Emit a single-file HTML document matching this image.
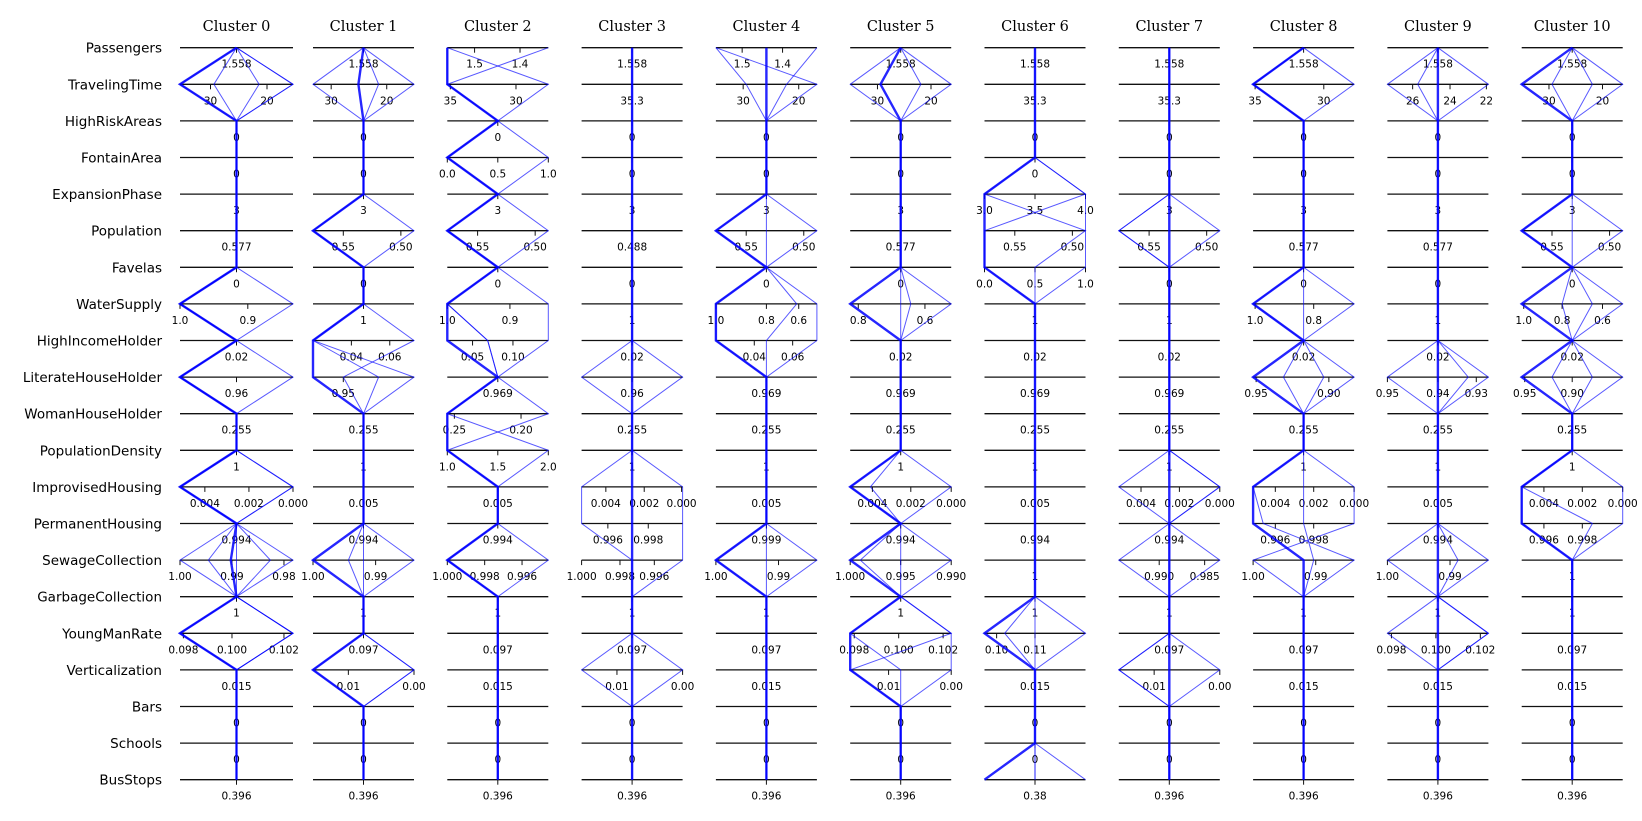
<!DOCTYPE html>
<html><head><meta charset="utf-8"><style>
html,body{margin:0;padding:0;background:#fff;}
svg{display:block;}
</style></head><body>
<svg id="chart" width="1642" height="821" viewBox="0 0 1642 821" xmlns="http://www.w3.org/2000/svg"></svg>
<script>
const rowNames = ["Passengers","TravelingTime","HighRiskAreas","FontainArea","ExpansionPhase","Population","Favelas","WaterSupply","HighIncomeHolder","LiterateHouseHolder","WomanHouseHolder","PopulationDensity","ImprovisedHousing","PermanentHousing","SewageCollection","GarbageCollection","YoungManRate","Verticalization","Bars","Schools","BusStops"];
const clusterNames = ["Cluster 0","Cluster 1","Cluster 2","Cluster 3","Cluster 4","Cluster 5","Cluster 6","Cluster 7","Cluster 8","Cluster 9","Cluster 10"];
const ticks0 = ["1.558","30@.27|20@.77","0","0","3","0.577","0","1.0@0|0.9@.6","0.02","0.96","0.255","1","0.004@.22|0.002@.61|0.000@1","0.994","1.00@0|0.99@.46|0.98@.92","1","0.098@.03|0.100@.46|0.102@.92","0.015","0","0","0.396"];
const ticks1 = ["1.558","30@.18|20@.73","0","0","3","0.55@.3|0.50@.87","0","1","0.04@.38|0.06@.76","0.95@.3","0.255","1","0.005","0.994","1.00@0|0.99@.62","1","0.097","0.01@.35|0.00@1","0","0","0.396"];
const ticks2 = ["1.5@.27|1.4@.72","35@.03|30@.68","0","0.0@0|0.5@.5|1.0@1","3","0.55@.3|0.50@.87","0","1.0@0|0.9@.62","0.05@.25|0.10@.65","0.969","0.25@.07|0.20@.73","1.0@0|1.5@.5|2.0@1","0.005","0.994","1.000@0|0.998@.37|0.996@.74","1","0.097","0.015","0","0","0.396"];
const ticks3 = ["1.558","35.3","0","0","3","0.488","0","1","0.02","0.96","0.255","1","0.004@.24|0.002@.62|0.000@.99","0.996@.26|0.998@.66","1.000@0|0.998@.38|0.996@.72","1","0.097","0.01@.35|0.00@1","0","0","0.396"];
const ticks4 = ["1.5@.26|1.4@.66","30@.27|20@.82","0","0","3","0.55@.3|0.50@.87","0","1.0@0|0.8@.5|0.6@.82","0.04@.38|0.06@.76","0.969","0.255","1","0.005","0.999","1.00@0|0.99@.62","1","0.097","0.015","0","0","0.396"];
const ticks5 = ["1.558","30@.27|20@.8","0","0","3","0.577","0","0.8@.08|0.6@.74","0.02","0.969","0.255","1","0.004@.22|0.002@.6|0.000@1","0.994","1.000@0|0.995@.5|0.990@1","1","0.098@.04|0.100@.48|0.102@.92","0.01@.38|0.00@1","0","0","0.396"];
const ticks6 = ["1.558","35.3","0","0","3.0@0|3.5@.5|4.0@1","0.55@.3|0.50@.87","0.0@0|0.5@.5|1.0@1","1","0.02","0.969","0.255","1","0.005","0.994","1","1","0.10@.12|0.11@.5","0.015","0","0","0.38"];
const ticks7 = ["1.558","35.3","0","0","3","0.55@.3|0.50@.87","0","1","0.02","0.969","0.255","1","0.004@.22|0.002@.6|0.000@1","0.994","0.990@.4|0.985@.85","1","0.097","0.01@.35|0.00@1","0","0","0.396"];
const ticks8 = ["1.558","35@.02|30@.7","0","0","3","0.577","0","1.0@.02|0.8@.6","0.02","0.95@.03|0.90@.75","0.255","1","0.004@.22|0.002@.6|0.000@1","0.996@.22|0.998@.6","1.00@0|0.99@.62","1","0.097","0.015","0","0","0.396"];
const ticks9 = ["1.558","26@.25|24@.62|22@.98","0","0","3","0.577","0","1","0.02","0.95@0|0.94@.5|0.93@.88","0.255","1","0.005","0.994","1.00@0|0.99@.62","1","0.098@.04|0.100@.48|0.102@.92","0.015","0","0","0.396"];
const ticks10 = ["1.558","30@.27|20@.8","0","0","3","0.55@.3|0.50@.87","0","1.0@.02|0.8@.4|0.6@.8","0.02","0.95@.03|0.90@.5","0.255","1","0.004@.22|0.002@.6|0.000@1","0.996@.22|0.998@.6","1","1","0.097","0.015","0","0","0.396"];
const allTicks = [ticks0,ticks1,ticks2,ticks3,ticks4,ticks5,ticks6,ticks7,ticks8,ticks9,ticks10];

const lines0 = [
[.5,0,.5,.5,.5,.5,.5,0,.5,0,.5,.5,0,.5,.45,.5,0,.5,.5,.5,.5],
[.5,1,.5,.5,.5,.5,.5,0,.5,0,.5,.5,1,.5,.5,.5,1,.5,.5,.5,.5],
[.5,.3,.5,.5,.5,.5,.5,0,.5,0,.5,.5,0,.5,.8,.5,1,.5,.5,.5,.5],
[.5,.7,.5,.5,.5,.5,.5,0,.5,0,.5,.5,0,.5,.25,.5,0,.5,.5,.5,.5],
[.5,1,.5,.5,.5,.5,.5,1,.5,1,.5,.5,1,.5,0,.5,1,.5,.5,.5,.5],
[.5,0,.5,.5,.5,.5,.5,0,.5,0,.5,.5,0,.5,1,.5,0,.5,.5,.5,.5]];
const lines1 = [
[.5,.45,.5,.5,.5,0,.5,.5,0,0,.5,.5,.5,.5,0,.5,.5,0,.5,.5,.5],
[.5,.65,.5,.5,.5,1,.5,.5,1,.3,.5,.5,.5,.5,.35,.5,.5,1,.5,.5,.5],
[.5,1,.5,.5,.5,0,.5,.5,0,.65,.5,.5,.5,.5,1,.5,.5,1,.5,.5,.5],
[.5,0,.5,.5,.5,0,.5,.5,0,1,.5,.5,.5,.5,.5,.5,.5,0,.5,.5,.5]];
const lines2 = [
[0,0,.5,0,.5,0,.5,0,0,.5,0,0,.5,.5,0,.5,.5,.5,.5,.5,.5],
[1,0,.5,0,.5,0,.5,0,.4,.5,0,0,.5,.5,0,.5,.5,.5,.5,.5,.5],
[0,1,.5,1,.5,1,.5,1,1,.5,1,0,.5,.5,0,.5,.5,.5,.5,.5,.5],
[0,0,.5,0,.5,0,.5,0,.4,.5,0,1,.5,.5,1,.5,.5,.5,.5,.5,.5]];
const lines3 = [
[.5,.5,.5,.5,.5,.5,.5,.5,.5,.5,.5,.5,.5,.5,.5,.5,.5,.5,.5,.5,.5],
[.5,.5,.5,.5,.5,.5,.5,.5,.5,0,.5,.5,0,0,.5,.5,.5,0,.5,.5,.5],
[.5,.5,.5,.5,.5,.5,.5,.5,.5,1,.5,.5,1,1,1,.5,.5,1,.5,.5,.5]];
const lines4 = [
[.5,.5,.5,.5,.5,0,.5,0,0,.5,.5,.5,.5,.5,0,.5,.5,.5,.5,.5,.5],
[1,.7,.5,.5,.5,1,.5,1,1,.5,.5,.5,.5,.5,1,.5,.5,.5,.5,.5,.5],
[0,1,.5,.5,.5,0,.5,.8,.5,.5,.5,.5,.5,.5,0,.5,.5,.5,.5,.5,.5],
[0,.3,.5,.5,.5,.5,.5,0,0,.5,.5,.5,.5,.5,.5,.5,.5,.5,.5,.5,.5]];
const lines5 = [
[.5,.3,.5,.5,.5,.5,.5,0,.5,.5,.5,.5,0,.5,0,.5,0,0,.5,.5,.5],
[.5,.7,.5,.5,.5,.5,.5,.5,.5,.5,.5,.5,1,.5,1,.5,1,1,.5,.5,.5],
[.5,0,.5,.5,.5,.5,.5,1,.5,.5,.5,.5,.2,.5,.5,.5,0,.5,.5,.5,.5],
[.5,1,.5,.5,.5,.5,.5,.6,.5,.5,.5,.5,0,.5,.1,.5,1,0,.5,.5,.5]];
const lines6 = [
[.5,.5,.5,.5,0,0,0,.5,.5,.5,.5,.5,.5,.5,.5,.5,0,.5,.5,.5,0],
[.5,.5,.5,.5,1,1,1,.5,.5,.5,.5,.5,.5,.5,.5,.5,1,.5,.5,.5,1],
[.5,.5,.5,.5,0,1,.5,.5,.5,.5,.5,.5,.5,.5,.5,.5,.2,.5,.5,.5,.5],
[.5,.5,.5,.5,1,0,0,.5,.5,.5,.5,.5,.5,.5,.5,.5,.5,.5,.5,.5,.5]];
const lines7 = [
[.5,.5,.5,.5,.5,.5,.5,.5,.5,.5,.5,.5,.5,.5,.5,.5,.5,.5,.5,.5,.5],
[.5,.5,.5,.5,.5,1,.5,.5,.5,.5,.5,.5,1,.5,0,.5,.5,1,.5,.5,.5],
[.5,.5,.5,.5,.5,0,.5,.5,.5,.5,.5,.5,0,.5,.5,.5,.5,0,.5,.5,.5],
[.5,.5,.5,.5,.5,0,.5,.5,.5,.5,.5,.5,1,.5,1,.5,.5,0,.5,.5,.5]];
const lines8 = [
[.5,0,.5,.5,.5,.5,.5,0,.5,0,.5,.5,0,0,.5,.5,.5,.5,.5,.5,.5],
[.5,0,.5,.5,.5,.5,.5,0,.5,.7,.5,.5,1,1,0,.5,.5,.5,.5,.5,.5],
[.5,1,.5,.5,.5,.5,.5,1,.5,1,.5,.5,0,.1,1,.5,.5,.5,.5,.5,.5],
[.5,0,.5,.5,.5,.5,.5,.5,.5,.3,.5,.5,.5,.5,.6,.5,.5,.5,.5,.5,.5]];
const lines9 = [
[.5,.5,.5,.5,.5,.5,.5,.5,.5,.5,.5,.5,.5,.5,.5,.5,.5,.5,.5,.5,.5],
[.5,1,.5,.5,.5,.5,.5,.5,.5,1,.5,.5,.5,.5,1,.5,1,.5,.5,.5,.5],
[.5,0,.5,.5,.5,.5,.5,.5,.5,0,.5,.5,.5,.5,0,.5,0,.5,.5,.5,.5],
[.5,.3,.5,.5,.5,.5,.5,.5,.5,.8,.5,.5,.5,.5,.7,.5,1,.5,.5,.5,.5]];
const lines10 = [
[.5,0,.5,.5,.5,0,.5,0,.5,0,.5,.5,0,0,.5,.5,.5,.5,.5,.5,.5],
[.5,1,.5,.5,.5,1,.5,1,.5,1,.5,.5,1,1,.5,.5,.5,.5,.5,.5,.5],
[.5,.3,.5,.5,.5,.5,.5,.4,.5,.3,.5,.5,0,0,.5,.5,.5,.5,.5,.5,.5],
[.5,.7,.5,.5,.5,0,.5,.7,.5,.7,.5,.5,0,.7,.5,.5,.5,.5,.5,.5,.5]];
const allLines = [lines0,lines1,lines2,lines3,lines4,lines5,lines6,lines7,lines8,lines9,lines10];

const NS = "http://www.w3.org/2000/svg";
const svg = document.getElementById("chart");
const rowY = i => 47.7 + i * 36.6;
const panelLeft = c => c === 0 ? 180 : 313 + (c - 1) * 134.3;
const panelRight = c => c === 0 ? 293 : 414 + (c - 1) * 134.3;
const xScale = (c, f) => panelLeft(c) + f * (panelRight(c) - panelLeft(c));
function mk(tag, attrs, parent) {
  const e = document.createElementNS(NS, tag);
  for (const k in attrs) e.setAttribute(k, attrs[k]);
  (parent || svg).appendChild(e);
  return e;
}
rowNames.forEach((n, i) => {
  const t = mk("text", {x: 162, y: rowY(i) + 5, "text-anchor": "end", "font-family": "DejaVu Sans, Liberation Sans, sans-serif", "font-size": "13.5", fill: "#000"});
  t.textContent = n;
  
  
});
clusterNames.forEach((name, c) => {
  const g = mk("g", {});
  
  
  const title = mk("text", {x: (panelLeft(c) + panelRight(c)) / 2, y: 31, "text-anchor": "middle", "font-family": "DejaVu Serif, Liberation Serif, serif", "font-size": "14.5", fill: "#000"}, g);
  title.textContent = name;
  
  
  allTicks[c].forEach((spec, i) => {
    const y = rowY(i);
    const ax = mk("line", {x1: panelLeft(c), x2: panelRight(c), y1: y, y2: y, stroke: "#111", "stroke-width": 1.3}, g);
    
    
    spec.split("|").forEach(part => {
      const [lab, pos] = part.split("@");
      const f = pos === undefined ? 0.5 : parseFloat(pos);
      const x = xScale(c, f);
      const tk = mk("line", {x1: x, x2: x, y1: y, y2: y + 5, stroke: "#111", "stroke-width": 1}, g);
      
      
      const tl = mk("text", {x: x, y: y + 20, "text-anchor": "middle", "font-family": "DejaVu Sans, Liberation Sans, sans-serif", "font-size": "10.5", fill: "#000"}, g);
      tl.textContent = lab;
      
      
    });
  });
  allLines[c].forEach((vals, k) => {
    const pts = vals.map((v, i) => xScale(c, v).toFixed(1) + "," + rowY(i).toFixed(1)).join(" ");
    const pl = mk("polyline", {points: pts, fill: "none", stroke: "#0000ff", "stroke-opacity": k === 0 ? 0.85 : 0.65, "stroke-width": k === 0 ? 2.4 : 1}, g);
    
    
  });
});
</script>
</body></html>
